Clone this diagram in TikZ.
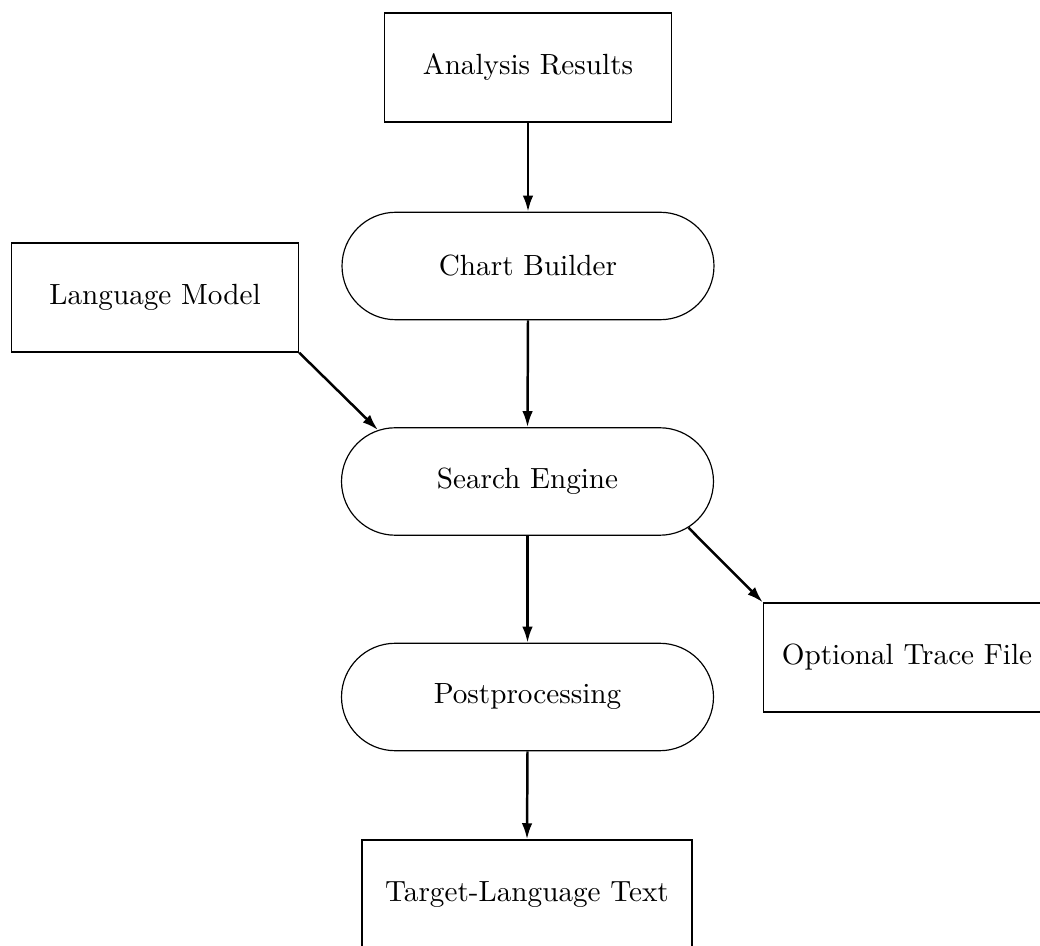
\documentclass[tikz,border=0pt]{standalone}
\usetikzlibrary{shapes.misc,arrows.meta}
\begin{document}
\begin{tikzpicture}[x=0.3425pt,y=-0.3425pt,
  box/.style={draw,line width=0.5pt,rectangle,minimum width=98.3pt,minimum height=37.3pt,inner sep=0pt},
  pill/.style={draw,line width=0.4pt,rounded rectangle,minimum width=127.4pt,minimum height=36.8pt,inner sep=0pt},
  arr/.style={line width=0.85pt,-{Latex[length=5.5pt,width=3.6pt]}}]
\clip (0,0) rectangle (1040,946);
\node[box] (ar) at (528,67.5) {Analysis Results};
\node[box] (lm) at (155,297.5) {Language Model};
\node[pill] (cb) at (528,266) {Chart Builder};
\node[pill] (se) at (527.5,481.5) {Search Engine};
\node[box] (otf) at (907,657.5) {Optional Trace File};
\node[pill] (pp) at (527.5,697) {Postprocessing};
\node[box,minimum width=113pt] (tlt) at (527,894.5) {Target-Language Text};
\draw[arr] (ar.south) -- (cb.north);
\draw[arr] (cb.south) -- (se.north);
\draw[arr] (lm.south east) -- (se.161);
\draw[arr] (se.-16) -- (otf.north west);
\draw[arr] (se.south) -- (pp.north);
\draw[arr] (pp.south) -- (tlt.north);
\end{tikzpicture}
\end{document}
